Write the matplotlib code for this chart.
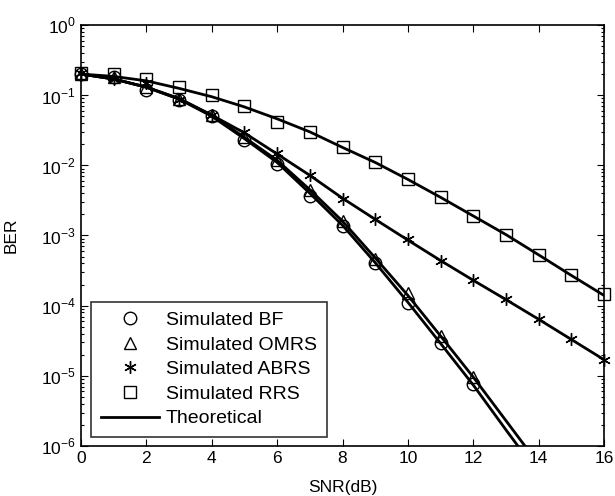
import numpy as np
import matplotlib
matplotlib.use("Agg")
import matplotlib.pyplot as plt
from matplotlib.lines import Line2D
from matplotlib.ticker import LogLocator, NullFormatter, FixedLocator

plt.rcParams['font.family'] = ['Liberation Sans', 'DejaVu Sans']
plt.rcParams['mathtext.fontset'] = 'custom'
plt.rcParams['mathtext.rm'] = 'Liberation Sans'

# ---- data ----
snr = [0, 1, 2, 3, 4, 5, 6, 7, 8, 9, 10, 11, 12, 13, 14, 15, 16]

sim_bf = [0.20, 0.18, 0.12, 0.086, 0.050, 0.023, 0.0105, 0.0036, 0.00135, 4.0e-4, 1.1e-4, 2.9e-5, 7.6e-6]
sim_omrs = [0.20, 0.18, 0.13, 0.088, 0.052, 0.025, 0.012, 0.0045, 0.0016, 4.7e-4, 1.5e-4, 3.7e-5, 9.5e-6]
sim_abrs = [0.21, 0.17, 0.15, 0.086, 0.052, 0.030, 0.015, 0.0074, 0.0033, 0.0017, 8.9e-4,
            4.4e-4, 2.3e-4, 1.25e-4, 6.4e-5, 3.4e-5, 1.7e-5]
sim_rrs = [0.21, 0.20, 0.17, 0.13, 0.10, 0.070, 0.042, 0.030, 0.018, 0.011, 0.0063,
           0.0035, 0.0019, 0.00103, 5.2e-4, 2.7e-4, 1.45e-4]

theo_bf = [0.20, 0.17, 0.13, 0.088, 0.050, 0.024, 0.011, 0.0040, 0.0014, 4.1e-4, 1.12e-4, 2.9e-5, 7.4e-6, 1.7e-6, 4.0e-7]
theo_omrs = [0.20, 0.17, 0.13, 0.090, 0.052, 0.025, 0.0118, 0.0045, 0.0016, 4.8e-4, 1.4e-4, 3.7e-5, 9.6e-6, 2.3e-6, 5.5e-7]
theo_abrs = [0.20, 0.17, 0.13, 0.088, 0.052, 0.029, 0.0145, 0.0072, 0.0034, 0.0017, 8.6e-4,
             4.4e-4, 2.3e-4, 1.22e-4, 6.4e-5, 3.3e-5, 1.7e-5]
theo_rrs = [0.20, 0.185, 0.16, 0.125, 0.095, 0.068, 0.046, 0.030, 0.018, 0.011, 0.0063,
            0.0035, 0.0019, 0.00103, 5.3e-4, 2.7e-4, 1.4e-4]

xticks = [0, 2, 4, 6, 8, 10, 12, 14, 16]
yticks = [1e0, 1e-1, 1e-2, 1e-3, 1e-4, 1e-5, 1e-6]
ytick_labels = [r'$10^{0}$', r'$10^{-1}$', r'$10^{-2}$', r'$10^{-3}$', r'$10^{-4}$', r'$10^{-5}$', r'$10^{-6}$']

fig = plt.figure(figsize=(6.15, 4.96), dpi=100)
ax = fig.add_axes([81 / 615, 50 / 496, 523 / 615, 421 / 496])

lw = 2.0
for th in (theo_bf, theo_omrs, theo_abrs, theo_rrs):
    ax.plot(snr[:len(th)], th, color='black', lw=lw, zorder=2)

mk = dict(color='black', mfc='none', mec='black', ls='none', ms=9, mew=1.0, zorder=3)
ax.plot(snr[:len(sim_bf)], sim_bf, marker='o', clip_on=False, **mk)
ax.plot(snr[:len(sim_omrs)], sim_omrs, marker='^', clip_on=False, **mk)
ax.plot(snr[:len(sim_abrs)], sim_abrs, marker=(6, 2, 0), clip_on=False, **mk)
ax.plot(snr[:len(sim_rrs)], sim_rrs, marker='s', clip_on=False, **mk)

ax.set_yscale('log')
ax.set_xlim(0, 16)
ax.set_ylim(1e-6, 1e0)
ax.set_xticks(xticks)
ax.set_xticklabels([str(t) for t in xticks])
ax.yaxis.set_major_locator(FixedLocator(yticks))
ax.set_yticklabels(ytick_labels)
ax.yaxis.set_minor_locator(LogLocator(base=10, subs=np.arange(2, 10), numticks=20))
ax.yaxis.set_minor_formatter(NullFormatter())

ax.tick_params(which='both', direction='in', top=True, right=True, labelsize=12.5, width=0.8)
ax.tick_params(which='major', length=5)
ax.tick_params(which='minor', length=2.5)
for s in ax.spines.values():
    s.set_linewidth(1.2)

ax.set_xlabel('SNR(dB)', fontsize=12.5, labelpad=10)
ax.set_ylabel('BER', fontsize=12.5, labelpad=16)

mk_leg = dict(mk)
handles = [
    Line2D([], [], marker='o', **mk_leg),
    Line2D([], [], marker='^', **mk_leg),
    Line2D([], [], marker=(6, 2, 0), **mk_leg),
    Line2D([], [], marker='s', **mk_leg),
    Line2D([], [], color='black', lw=lw),
]
labels = ['Simulated BF', 'Simulated OMRS', 'Simulated ABRS', 'Simulated RRS', 'Theoretical']
leg = ax.legend(handles, labels, loc='lower left', bbox_to_anchor=(0.019, 0.021),
                fontsize=14, frameon=True, fancybox=False, edgecolor='black',
                borderpad=0.5, labelspacing=0.36, handlelength=3.0, handletextpad=0.35,
                borderaxespad=0)
leg.get_frame().set_linewidth(1.2)

fig.savefig('out.png', dpi=100)
